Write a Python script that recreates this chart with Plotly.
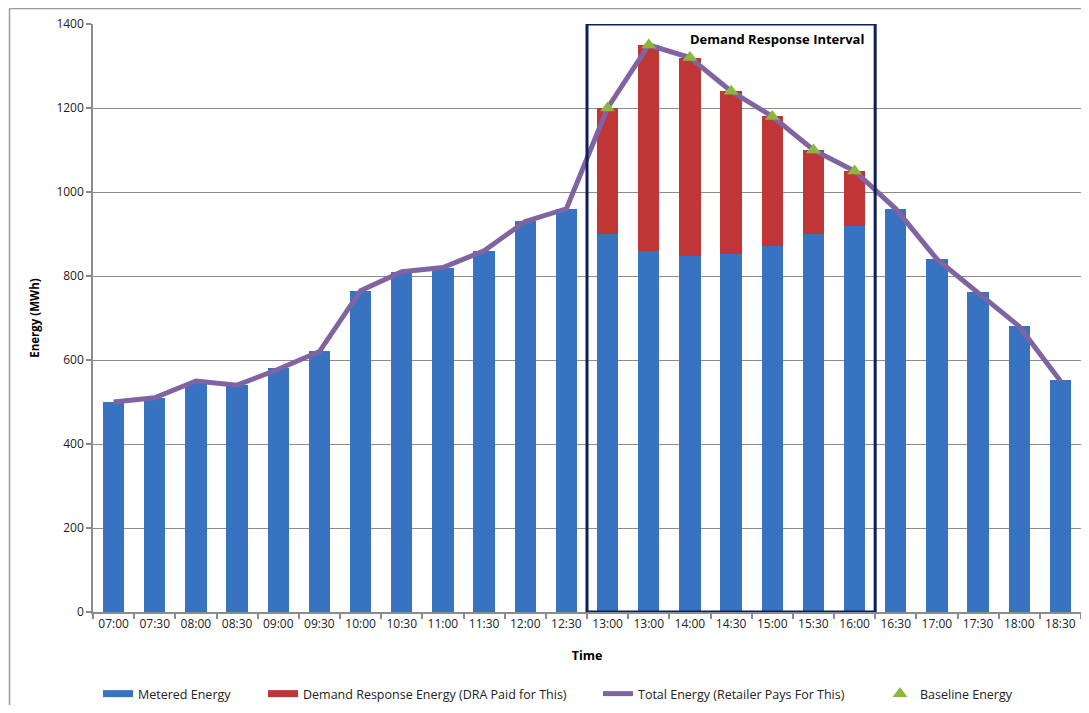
import plotly.graph_objects as go

times = ["07:00", "07:30", "08:00", "08:30", "09:00", "09:30", "10:00", "10:30",
         "11:00", "11:30", "12:00", "12:30", "13:00", "13:00", "14:00", "14:30",
         "15:00", "15:30", "16:00", "16:30", "17:00", "17:30", "18:00", "18:30"]
metered = [500, 510, 545, 540, 580, 622, 765, 810, 820, 860, 930, 960,
           900, 860, 848, 852, 872, 900, 920, 960, 840, 762, 680, 552]
total = [500, 510, 550, 540, 578, 620, 765, 810, 820, 860, 930, 960,
         1200, 1350, 1320, 1240, 1180, 1100, 1050, 960, 840, 760, 680, 550]
dr_start, dr_end = 12, 18  # indices of the demand response interval
baseline = [total[i] if dr_start <= i <= dr_end else None for i in range(len(times))]
dr_energy = [total[i] - metered[i] if dr_start <= i <= dr_end else 0 for i in range(len(times))]

x = list(range(len(times)))
font = "Open Sans"
blue = "#3773c0"
red = "#c03535"
purple = "#8064a2"
green = "#8db63c"

W, H = 1073, 697
ML, MR, MT, MB = 85, 0, 16, 93
pw, ph = W - ML - MR, H - MT - MB

fig = go.Figure()
fig.add_trace(go.Bar(x=x, y=metered, name="Metered Energy", width=0.52, showlegend=False,
                     marker=dict(color=blue, line=dict(width=0))))
fig.add_trace(go.Bar(x=x, y=dr_energy, name="Demand Response Energy (DRA Paid for This)",
                     width=0.52, showlegend=False, marker=dict(color=red, line=dict(width=0))))
fig.add_trace(go.Scatter(x=x, y=total, name="Total Energy (Retailer Pays For This)",
                         mode="lines", line=dict(color=purple, width=5), legend="legend3"))
fig.add_trace(go.Scatter(x=x, y=baseline, name="Baseline Energy", mode="markers",
                         legend="legend4",
                         marker=dict(symbol="triangle-up", size=13, color=green,
                                     line=dict(width=0))))
# legend entries for the bars (wide rectangle swatches)
fig.add_trace(go.Scatter(x=[None], y=[None], name="Metered Energy", mode="lines",
                         line=dict(color=blue, width=7), legend="legend"))
fig.add_trace(go.Scatter(x=[None], y=[None], name="Demand Response Energy (DRA Paid for This)",
                         mode="lines", line=dict(color=red, width=7), legend="legend2"))

# Demand response interval box
fig.add_shape(type="rect", xref="x", yref="y", x0=dr_start - 0.5, x1=dr_end + 0.5,
              y0=0, y1=1400, line=dict(color="#0c1f5c", width=3), layer="above")
fig.add_annotation(x=dr_end + 0.5, y=1400, xref="x", yref="y", xanchor="right", yanchor="top",
                   xshift=-9, yshift=-4, showarrow=False,
                   text="<b>Demand Response Interval</b>",
                   font=dict(family=font, size=13, color="#000000"))
# outer chart border (top and left edges)
top_y = 1 + (MT - 0.5) / ph
left_x = -(ML - 1.5) / pw
fig.add_shape(type="line", xref="paper", yref="paper", x0=left_x, x1=1.01, y0=top_y, y1=top_y,
              line=dict(color="#9a9a9a", width=1.5))
fig.add_shape(type="line", xref="paper", yref="paper", x0=left_x, x1=left_x, y0=-0.2, y1=top_y,
              line=dict(color="#9a9a9a", width=1.5))

legend_y = -82 / ph
legend_px = [90, 255, 590, 872]  # left edge of each legend entry, figure pixels
legend_style = dict(orientation="h", xanchor="left", y=legend_y, yanchor="middle",
                    font=dict(family=font, size=12.5, color="#222222"),
                    itemwidth=30, bgcolor="rgba(0,0,0,0)")

fig.update_layout(
    width=W, height=H,
    margin=dict(l=ML, r=MR, t=MT, b=MB, autoexpand=False),
    paper_bgcolor="white", plot_bgcolor="white",
    barmode="stack",
    font=dict(family=font, size=12, color="#222222"),
    showlegend=True,
    legend=dict(x=(legend_px[0] - ML) / pw, **legend_style),
    legend2=dict(x=(legend_px[1] - ML) / pw, **legend_style),
    legend3=dict(x=(legend_px[2] - ML) / pw, **legend_style),
    legend4=dict(x=(legend_px[3] - ML) / pw, **legend_style),
    xaxis=dict(tickmode="array", tickvals=x, ticktext=times, range=[-0.5, len(times) - 0.5],
               showgrid=False, showline=True, linecolor="#8c8c8c", linewidth=1.5,
               ticks="", tickfont=dict(family=font, size=12), automargin=False,
               minor=dict(tickmode="array", tickvals=[i - 0.5 for i in range(len(times) + 1)],
                          ticks="outside", ticklen=5, tickcolor="#8c8c8c", tickwidth=1.5,
                          showgrid=False),
               title=dict(text="<b>Time</b>", font=dict(family=font, size=12.5, color="#000000"),
                          standoff=20),
               zeroline=False),
    yaxis=dict(range=[0, 1400], tickvals=[0, 200, 400, 600, 800, 1000, 1200, 1400],
               showgrid=True, gridcolor="#8c8c8c", gridwidth=1.2, automargin=False,
               showline=True, linecolor="#8c8c8c", linewidth=1.5,
               ticks="outside", ticklen=5, tickcolor="#8c8c8c", tickwidth=1.5,
               tickfont=dict(family=font, size=12),
               title=dict(text="<b>Energy (MWh)</b>", font=dict(family=font, size=11.5, color="#000000"),
                          standoff=14),
               zeroline=False),
)

fig.write_html("out.html")
